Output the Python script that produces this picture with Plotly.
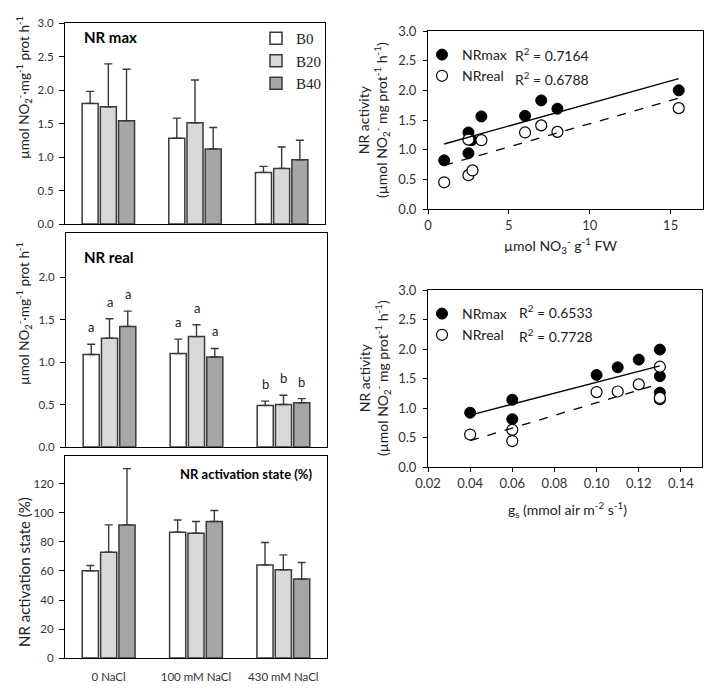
import plotly.graph_objects as go
import numpy as np

W, H = 726, 697
PAGE_OFF = 8  # browser default body margin


def px(x):
    return (x - PAGE_OFF) / W


def py(y):
    return 1 - (y - PAGE_OFF) / H


# ---------------- data ----------------
nacl = ["0 NaCl", "100 mM NaCl", "430 mM NaCl"]
boron = ["B0", "B20", "B40"]

nrmax_b0 = [1.80, 1.28, 0.77]
nrmax_b0_err = [0.18, 0.30, 0.09]
nrmax_b20 = [1.75, 1.51, 0.83]
nrmax_b20_err = [0.64, 0.64, 0.32]
nrmax_b40 = [1.54, 1.12, 0.96]
nrmax_b40_err = [0.77, 0.32, 0.29]

nrreal_b0 = [1.09, 1.10, 0.49]
nrreal_b0_err = [0.12, 0.17, 0.05]
nrreal_b20 = [1.28, 1.30, 0.50]
nrreal_b20_err = [0.23, 0.14, 0.11]
nrreal_b40 = [1.42, 1.06, 0.52]
nrreal_b40_err = [0.18, 0.10, 0.05]
nrreal_letters_b0 = ["a", "a", "b"]
nrreal_letters_b20 = ["a", "a", "b"]
nrreal_letters_b40 = ["a", "a", "b"]

act_b0 = [60.1, 86.7, 64.2]
act_b0_err = [3.7, 8.5, 15.4]
act_b20 = [73.0, 86.0, 60.8]
act_b20_err = [18.8, 8.1, 10.3]
act_b40 = [91.8, 94.1, 54.4]
act_b40_err = [38.8, 7.6, 11.5]

no3_x_max = [1.0, 2.5, 2.7, 2.5, 3.3, 6.0, 7.0, 8.0, 15.5]
no3_nrmax = [0.82, 1.29, 1.16, 0.94, 1.56, 1.57, 1.83, 1.69, 2.00]
no3_x_real = [1.0, 2.5, 2.75, 2.5, 3.3, 6.0, 7.0, 8.0, 15.5]
no3_nrreal = [0.45, 0.57, 0.65, 1.17, 1.16, 1.29, 1.41, 1.30, 1.70]
no3_r2 = ["0.7164", "0.6788"]

gs_x_max = [0.04, 0.06, 0.06, 0.10, 0.11, 0.12, 0.13, 0.13, 0.13]
gs_nrmax = [0.92, 1.14, 0.81, 1.56, 1.69, 1.82, 1.99, 1.54, 1.26]
gs_x_real = [0.04, 0.06, 0.06, 0.10, 0.11, 0.12, 0.13, 0.13, 0.13]
gs_nrreal = [0.55, 0.63, 0.44, 1.27, 1.28, 1.40, 1.70, 1.15, 1.17]
gs_r2 = ["0.6533", "0.7728"]

# ---------------- styles ----------------
FONT = "Lato"
bar_colors = ["#ffffff", "#d9d9d9", "#a6a6a6"]
edge = "#3a3a3a"
tickc = "#333333"

fig = go.Figure()

bar_sets = [
    ("x", "y", [nrmax_b0, nrmax_b20, nrmax_b40], [nrmax_b0_err, nrmax_b20_err, nrmax_b40_err], True),
    ("x2", "y2", [nrreal_b0, nrreal_b20, nrreal_b40], [nrreal_b0_err, nrreal_b20_err, nrreal_b40_err], False),
    ("x3", "y3", [act_b0, act_b20, act_b40], [act_b0_err, act_b20_err, act_b40_err], False),
]
for xa, ya, means, errs, show in bar_sets:
    for k in range(3):
        fig.add_trace(go.Bar(
            x=nacl, y=means[k], name=boron[k], xaxis=xa, yaxis=ya,
            marker=dict(color=bar_colors[k], line=dict(color=edge, width=1.5)),
            error_y=dict(type="data", symmetric=False, array=errs[k],
                         arrayminus=[0] * len(errs[k]), color=edge,
                         thickness=1.4, width=4),
            showlegend=show, legend="legend",
        ))

# significance letters
bar_offsets = [-0.21, 0.0, 0.21]
letters = [nrreal_letters_b0, nrreal_letters_b20, nrreal_letters_b40]
means_r = [nrreal_b0, nrreal_b20, nrreal_b40]
errs_r = [nrreal_b0_err, nrreal_b20_err, nrreal_b40_err]
annotations = []
for k in range(3):
    for i in range(3):
        annotations.append(dict(
            x=i + bar_offsets[k], y=means_r[k][i] + errs_r[k][i], xref="x2", yref="y2",
            text=letters[k][i], showarrow=False, yanchor="bottom", yshift=7,
            font=dict(family=FONT, size=13, color="#222222")))


def scatter_panel(xa, ya, xmax_vals, ymax_vals, xreal_vals, yreal_vals, leg):
    fig.add_trace(go.Scatter(
        x=xmax_vals, y=ymax_vals, mode="markers", name="NRmax", xaxis=xa, yaxis=ya,
        marker=dict(size=11, color="black", line=dict(color="black", width=1)),
        legend=leg))
    fig.add_trace(go.Scatter(
        x=xreal_vals, y=yreal_vals, mode="markers", name="NRreal", xaxis=xa, yaxis=ya,
        marker=dict(size=11, color="white", line=dict(color="black", width=1.2)),
        legend=leg))
    for xs, ys, dash in [(xmax_vals, ymax_vals, "solid"), (xreal_vals, yreal_vals, "dash")]:
        b, a = np.polyfit(xs, ys, 1)
        xl = np.array([min(xs), max(xs)])
        fig.add_trace(go.Scatter(
            x=xl, y=a + b * xl, mode="lines", xaxis=xa, yaxis=ya, showlegend=False,
            line=dict(color="black", width=1.3, dash=dash), hoverinfo="skip"))


scatter_panel("x4", "y4", no3_x_max, no3_nrmax, no3_x_real, no3_nrreal, "legend2")
scatter_panel("x5", "y5", gs_x_max, gs_nrmax, gs_x_real, gs_nrreal, "legend3")

# ---------------- axes ----------------
tickfont = dict(family=FONT, size=11.5, color=tickc)
common = dict(showline=True, linecolor="black", linewidth=1.2, mirror=True,
              showgrid=False, zeroline=False, automargin=False)

bar_x = dict(common, ticks="", tickfont=tickfont)
bar_y = dict(common, ticks="outside", ticklen=5, tickcolor="black", tickwidth=1,
             tickfont=tickfont, ticklabelstandoff=3)

layout_axes = dict(
    xaxis=dict(bar_x, domain=[px(65), px(325)], anchor="y", showticklabels=False),
    yaxis=dict(bar_y, domain=[py(224), py(23)], anchor="x", range=[0, 3.0],
               tickvals=[0, 0.5, 1.0, 1.5, 2.0, 2.5, 3.0], tickformat=".1f"),
    xaxis2=dict(bar_x, domain=[px(66), px(327)], anchor="y2", showticklabels=False),
    yaxis2=dict(bar_y, domain=[py(447), py(233)], anchor="x2", range=[0, 2.52],
                tickvals=[0, 0.5, 1.0, 1.5, 2.0], tickformat=".1f"),
    xaxis3=dict(bar_x, domain=[px(65), px(327)], anchor="y3", ticks="outside",
                ticklen=8, tickcolor="rgba(0,0,0,0)"),
    yaxis3=dict(bar_y, domain=[py(658), py(456)], anchor="x3", range=[0, 139.3],
                tickvals=[0, 20, 40, 60, 80, 100, 120]),
)

sc_font = dict(family=FONT, size=13, color=tickc)
sc_x = dict(common, ticks="outside", ticklen=4, tickcolor="black", tickfont=sc_font,
            ticklabelstandoff=0)
sc_y = dict(common, ticks="outside", ticklen=4, tickcolor="black", tickfont=sc_font,
            ticklabelstandoff=4, range=[0, 3.0], tickvals=[0, 0.5, 1.0, 1.5, 2.0, 2.5, 3.0],
            tickformat=".1f")
layout_axes.update(
    xaxis4=dict(sc_x, domain=[px(428), px(703)], anchor="y4", range=[0, 17],
                tickvals=[0, 5, 10, 15]),
    yaxis4=dict(sc_y, domain=[py(209), py(31)], anchor="x4"),
    xaxis5=dict(sc_x, domain=[px(428), px(702)], anchor="y5", range=[0.02, 0.15],
                tickvals=[0.02, 0.04, 0.06, 0.08, 0.10, 0.12, 0.14], tickformat=".2f"),
    yaxis5=dict(sc_y, domain=[py(467), py(290)], anchor="x5"),
)

# ---------------- text ----------------
ytitle_font = dict(family=FONT, size=13.5, color="#222222")
nr_unit = "µmol NO<sub>2</sub><sup>-</sup>·mg<sup>-1</sup> prot h<sup>-1</sup>"
annotations += [
    dict(x=px(24), y=py(88), xref="paper", yref="paper", text=nr_unit, textangle=-90,
         xanchor="center", yanchor="middle", showarrow=False, font=ytitle_font),
    dict(x=px(24), y=py(314), xref="paper", yref="paper", text=nr_unit, textangle=-90,
         xanchor="center", yanchor="middle", showarrow=False, font=ytitle_font),
    dict(x=px(24), y=py(572), xref="paper", yref="paper", text="NR activation state (%)",
         textangle=-90, xanchor="center", yanchor="middle", showarrow=False,
         font=dict(family=FONT, size=15, color="#222222")),
    dict(x=px(82), y=py(37), xref="paper", yref="paper", text="<b>NR max</b>",
         xanchor="left", yanchor="middle", showarrow=False,
         font=dict(family=FONT, size=15, color="black")),
    dict(x=px(82), y=py(257), xref="paper", yref="paper", text="<b>NR real</b>",
         xanchor="left", yanchor="middle", showarrow=False,
         font=dict(family=FONT, size=15, color="black")),
    dict(x=px(178), y=py(474), xref="paper", yref="paper",
         text="<b>NR activation state (%)</b>", xanchor="left", yanchor="middle",
         showarrow=False, font=dict(family=FONT, size=13, color="black")),
    dict(x=px(560), y=py(245), xref="paper", yref="paper",
         text="µmol NO<sub>3</sub><sup>-</sup> g<sup>-1</sup> FW",
         xanchor="center", yanchor="middle", showarrow=False,
         font=dict(family=FONT, size=14, color="#222222")),
    dict(x=px(567), y=py(509), xref="paper", yref="paper",
         text="g<sub>s</sub> (mmol air m<sup>-2</sup> s<sup>-1</sup>)",
         xanchor="center", yanchor="middle", showarrow=False,
         font=dict(family=FONT, size=14, color="#222222")),
]
sc_title = ("NR activity<br>(µmol NO<sub>2</sub><sup>-</sup> mg prot<sup>-1</sup> h<sup>-1</sup>)")
for yc in [120, 378]:
    annotations.append(dict(x=px(374), y=py(yc), xref="paper", yref="paper", text=sc_title,
                            textangle=-90, xanchor="center", yanchor="middle",
                            showarrow=False,
                            font=dict(family=FONT, size=14, color="#222222")))
r2_font = dict(family=FONT, size=14, color="#222222")
for r2, yc in zip(no3_r2, [55, 78]):
    annotations.append(dict(x=px(513), y=py(yc), xref="paper", yref="paper",
                            text="R<sup>2</sup> = " + r2, xanchor="left", yanchor="middle",
                            showarrow=False, font=r2_font))
for r2, yc in zip(gs_r2, [311, 335]):
    annotations.append(dict(x=px(517), y=py(yc), xref="paper", yref="paper",
                            text="R<sup>2</sup> = " + r2, xanchor="left", yanchor="middle",
                            showarrow=False, font=r2_font))

fig.update_layout(
    template="none",
    width=W, height=H, margin=dict(l=0, r=0, t=0, b=0, autoexpand=False),
    paper_bgcolor="white", plot_bgcolor="white",
    barmode="group", bargap=0.37, bargroupgap=0.12,
    annotations=annotations,
    legend=dict(x=px(256), y=py(22), xanchor="left", yanchor="top",
                font=dict(family="Liberation Serif", size=15, color="#222222"),
                bgcolor="rgba(0,0,0,0)", tracegroupgap=0, itemwidth=30),
    legend2=dict(x=px(422), y=py(39), xanchor="left", yanchor="top",
                 font=dict(family=FONT, size=14, color="#222222"),
                 bgcolor="rgba(0,0,0,0)", itemwidth=30),
    legend3=dict(x=px(422), y=py(298), xanchor="left", yanchor="top",
                 font=dict(family=FONT, size=14, color="#222222"),
                 bgcolor="rgba(0,0,0,0)", itemwidth=30),
    **layout_axes,
)

fig.write_html("out.html")
